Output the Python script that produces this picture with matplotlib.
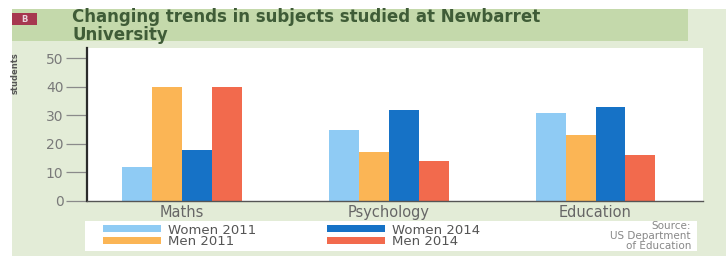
import matplotlib
matplotlib.use("Agg")
import matplotlib.pyplot as plt
import numpy as np
from matplotlib.patches import Rectangle, Patch

# values (number of students)
subjects = ['Maths', 'Psychology', 'Education']
women_2011 = [12, 25, 31]
men_2011 = [40, 17, 23]
women_2014 = [18, 32, 33]
men_2014 = [40, 14, 16]

series = [women_2011, men_2011, women_2014, men_2014]
series_names = ['Women 2011', 'Men 2011', 'Women 2014', 'Men 2014']
colors = ['#8fcbf4', '#fbb555', '#1672c6', '#f26a4d']

W, H = 726, 256


def fx(px):
    return px / W


def fy(py):
    # pixel from top -> figure fraction
    return 1 - py / H


fig = plt.figure(figsize=(W / 100, H / 100), dpi=100)
fig.patch.set_facecolor('white')

# page background and title band
fig.patches.append(Rectangle((fx(12), 0), fx(W - 12), fy(9), transform=fig.transFigure,
                             facecolor='#e3ecd7', edgecolor='none', zorder=-3))
fig.patches.append(Rectangle((fx(12), fy(41)), fx(676), fy(9) - fy(41), transform=fig.transFigure,
                             facecolor='#c4d9ab', edgecolor='none', zorder=-2))
# badge
fig.patches.append(Rectangle((fx(12), fy(25)), fx(25), fy(13) - fy(25), transform=fig.transFigure,
                             facecolor='#a6374f', edgecolor='none', zorder=-1))
fig.text(fx(24.5), fy(19), 'B', color='#e9d4dc', fontsize=6, fontweight='bold', ha='center', va='center')

fig.text(fx(72), fy(26), 'Changing trends in subjects studied at Newbarret\nUniversity',
         color='#3f5c37', fontsize=12, fontweight='bold', ha='left', va='center', linespacing=0.95)

fig.text(fx(15.5), fy(73), 'students', rotation=90, color='#555555', fontsize=6, fontweight='bold',
         ha='center', va='center')

# plot area
ax = fig.add_axes([fx(87), fy(201), fx(703 - 87), fy(48) - fy(201)])
ax.set_facecolor('white')

x = np.arange(len(subjects))
bw = 0.145
for i, (vals, c, name) in enumerate(zip(series, colors, series_names)):
    ax.bar(x + (i - 1.5) * bw, vals, width=bw, color=c, label=name, edgecolor='none')

ax.set_xlim(-0.46, 2.52)
ax.set_ylim(0, 53.6)
ax.set_yticks([0, 10, 20, 30, 40, 50])
ax.set_xticks(x)
ax.set_xticklabels(subjects)

for s in ['top', 'right']:
    ax.spines[s].set_visible(False)
ax.spines['left'].set_color('#2b2b2b')
ax.spines['left'].set_linewidth(1.6)
ax.spines['bottom'].set_color('#555555')
ax.spines['bottom'].set_linewidth(1.0)

ax.tick_params(axis='y', length=15, width=0.9, color='#8a8a8a', pad=2,
               labelsize=10, labelcolor='#7a7a7a')
ax.tick_params(axis='x', length=0, pad=3, labelsize=10.5, labelcolor='#666666')

# legend panel
fig.patches.append(Rectangle((fx(85), fy(251)), fx(697 - 85), fy(221) - fy(251), transform=fig.transFigure,
                             facecolor='white', edgecolor='none', zorder=-1))
handles = [Patch(facecolor=c, edgecolor='none') for c in colors]
fig.legend(handles, series_names, loc='upper left', bbox_to_anchor=(fx(103), fy(223.5)),
           ncol=2, frameon=False, fontsize=9.5, borderpad=0, borderaxespad=0,
           handlelength=4.4, handleheight=0.45, handletextpad=0.5, labelspacing=-0.1,
           columnspacing=5.4, labelcolor='#555555')

fig.text(fx(691), fy(236), 'Source:\nUS Department\nof Education', color='#888888', fontsize=7.5,
         ha='right', va='center', linespacing=0.95)

fig.savefig('out.png', dpi=100, facecolor=fig.get_facecolor())
